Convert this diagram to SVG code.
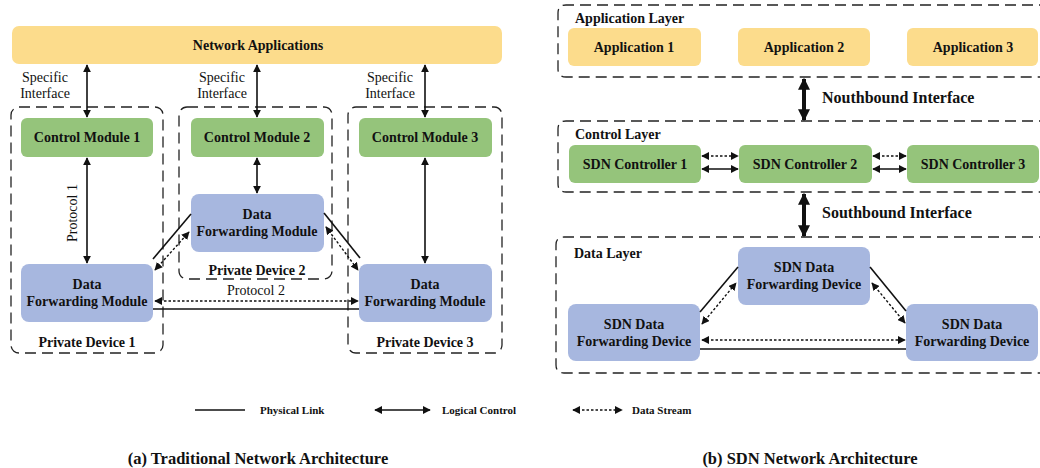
<svg xmlns="http://www.w3.org/2000/svg" width="1040" height="468" viewBox="0 0 1040 468">
  <style>
    .t { font-family: "Liberation Serif", "Times New Roman", serif; fill: #111; }
    .b { font-weight: bold; }
    .node { font-size: 14px; font-weight: bold; text-anchor: middle; }
    .lbl { font-size: 14px; text-anchor: middle; }
    .lay { font-size: 14px; font-weight: bold; }
    .leg { font-size: 11px; font-weight: bold; }
    .app { fill: #FCDC8C; }
    .ctl { fill: #95C47B; }
    .fwd { fill: #A7B7DF; }
    .frame { fill: none; stroke: #222; stroke-width: 1.3; stroke-dasharray: 11 6; }
    .phys { stroke: #111; stroke-width: 1.6; fill: none; }
    .logic { stroke: #111; stroke-width: 1.6; fill: none; marker-start: url(#ah); marker-end: url(#ah); }
    .data { stroke: #111; stroke-width: 1.4; stroke-dasharray: 2.5 2; fill: none; marker-start: url(#ah); marker-end: url(#ah); }
    .thick { stroke: #111; stroke-width: 4; fill: none; marker-start: url(#bh); marker-end: url(#bh); }
  </style>
  <defs>
    <marker id="ah" viewBox="0 0 10 10" refX="9" refY="5" markerWidth="8" markerHeight="8" markerUnits="userSpaceOnUse" orient="auto-start-reverse">
      <path d="M0,0 L10,5 L0,10 z" fill="#111"/>
    </marker>
    <marker id="bh" viewBox="0 0 10 10" refX="9" refY="5" markerWidth="12" markerHeight="13" markerUnits="userSpaceOnUse" orient="auto-start-reverse">
      <path d="M0,0 L10,5 L0,10 z" fill="#111"/>
    </marker>
  </defs>

  <!-- (a) Traditional network architecture -->
  <g id="a-frames">
    <rect class="frame" x="11" y="107" width="152" height="246" rx="8"/>
    <rect class="frame" x="179" y="107" width="153" height="172" rx="8"/>
    <rect class="frame" x="348" y="107" width="154" height="246" rx="8"/>
  </g>

  <g id="net-apps">
    <rect class="app" x="12" y="26" width="490" height="38" rx="7"/>
    <text class="t node" x="258" y="50" font-size="13">Network Applications</text>
  </g>

  <g id="cm1">
    <rect class="ctl" x="21" y="118" width="132" height="39" rx="6"/>
    <text class="t node" x="87" y="142">Control Module 1</text>
  </g>
  <g id="cm2">
    <rect class="ctl" x="191" y="118" width="133" height="39" rx="6"/>
    <text class="t node" x="257" y="142">Control Module 2</text>
  </g>
  <g id="cm3">
    <rect class="ctl" x="359" y="118" width="133" height="39" rx="6"/>
    <text class="t node" x="425" y="142">Control Module 3</text>
  </g>

  <g id="dfm1">
    <rect class="fwd" x="21" y="264" width="132" height="58" rx="8"/>
    <text class="t node" x="87" y="289">Data</text>
    <text class="t node" x="87" y="306">Forwarding Module</text>
  </g>
  <g id="dfm2">
    <rect class="fwd" x="191" y="194" width="133" height="58" rx="8"/>
    <text class="t node" x="257" y="219">Data</text>
    <text class="t node" x="257" y="236">Forwarding Module</text>
  </g>
  <g id="dfm3">
    <rect class="fwd" x="359" y="264" width="133" height="58" rx="8"/>
    <text class="t node" x="425" y="289">Data</text>
    <text class="t node" x="425" y="306">Forwarding Module</text>
  </g>

  <g id="a-labels">
    <text class="t lbl" x="45" y="82">Specific</text>
    <text class="t lbl" x="45" y="98">Interface</text>
    <text class="t lbl" x="222" y="82">Specific</text>
    <text class="t lbl" x="222" y="98">Interface</text>
    <text class="t lbl" x="390" y="82">Specific</text>
    <text class="t lbl" x="390" y="98">Interface</text>
    <text class="t lbl" x="0" y="0" transform="translate(77 213) rotate(-90)">Protocol 1</text>
    <text class="t lbl" x="256" y="295">Protocol 2</text>
    <text class="t node" x="87" y="347">Private Device 1</text>
    <text class="t node" x="257" y="275">Private Device 2</text>
    <text class="t node" x="425" y="347">Private Device 3</text>
  </g>

  <g id="a-connectors">
    <line class="logic" x1="87" y1="65" x2="87" y2="117"/>
    <line class="logic" x1="257" y1="65" x2="257" y2="117"/>
    <line class="logic" x1="425" y1="65" x2="425" y2="117"/>
    <line class="logic" x1="87" y1="158" x2="87" y2="263"/>
    <line class="logic" x1="257" y1="158" x2="257" y2="193"/>
    <line class="logic" x1="425" y1="158" x2="425" y2="263"/>
    <line class="phys" x1="153" y1="259" x2="191" y2="214"/>
    <line class="data" x1="155" y1="270" x2="189" y2="232"/>
    <line class="phys" x1="324" y1="213" x2="360" y2="258"/>
    <line class="data" x1="326" y1="227" x2="358" y2="270"/>
    <line class="data" x1="155" y1="301" x2="358" y2="301"/>
    <line class="phys" x1="153" y1="309" x2="359" y2="309"/>
  </g>

  <!-- (b) SDN network architecture -->
  <g id="b-layers">
    <path class="frame" d="M1050,5 H566 Q558,5 558,13 V69 Q558,77 566,77 H1050"/>
    <path class="frame" d="M1050,121 H566 Q558,121 558,129 V184 Q558,192 566,192 H1050"/>
    <path class="frame" d="M1050,237 H564 Q556,237 556,245 V365 Q556,373 564,373 H1050"/>
    <text class="t lay" x="575" y="23">Application Layer</text>
    <text class="t lay" x="575" y="139">Control Layer</text>
    <text class="t lay" x="574" y="258">Data Layer</text>
  </g>

  <g id="app1">
    <rect class="app" x="568" y="28" width="133" height="38" rx="6"/>
    <text class="t node" x="634" y="52">Application 1</text>
  </g>
  <g id="app2">
    <rect class="app" x="738" y="28" width="132" height="38" rx="6"/>
    <text class="t node" x="804" y="52">Application 2</text>
  </g>
  <g id="app3">
    <rect class="app" x="907" y="28" width="131" height="38" rx="6"/>
    <text class="t node" x="973" y="52">Application 3</text>
  </g>

  <g id="ctrl1">
    <rect class="ctl" x="569" y="145" width="132" height="38" rx="6"/>
    <text class="t node" x="635" y="169" font-size="14.5">SDN Controller 1</text>
  </g>
  <g id="ctrl2">
    <rect class="ctl" x="739" y="145" width="133" height="38" rx="6"/>
    <text class="t node" x="805" y="169" font-size="14.5">SDN Controller 2</text>
  </g>
  <g id="ctrl3">
    <rect class="ctl" x="907" y="145" width="132" height="38" rx="6"/>
    <text class="t node" x="973" y="169" font-size="14.5">SDN Controller 3</text>
  </g>

  <g id="dev-top">
    <rect class="fwd" x="738" y="247" width="132" height="58" rx="8"/>
    <text class="t node" x="804" y="272">SDN Data</text>
    <text class="t node" x="804" y="289">Forwarding Device</text>
  </g>
  <g id="dev-left">
    <rect class="fwd" x="568" y="304" width="132" height="57" rx="8"/>
    <text class="t node" x="634" y="329">SDN Data</text>
    <text class="t node" x="634" y="346">Forwarding Device</text>
  </g>
  <g id="dev-right">
    <rect class="fwd" x="906" y="304" width="132" height="57" rx="8"/>
    <text class="t node" x="972" y="329">SDN Data</text>
    <text class="t node" x="972" y="346">Forwarding Device</text>
  </g>

  <g id="b-interfaces">
    <text class="t b" x="822" y="103" font-size="16">Nouthbound Interface</text>
    <text class="t b" x="822" y="218" font-size="16">Southbound Interface</text>
  </g>

  <g id="b-connectors">
    <line class="thick" x1="804" y1="79" x2="804" y2="120"/>
    <line class="thick" x1="804" y1="194" x2="804" y2="236"/>
    <line class="data" x1="702" y1="156" x2="738" y2="156"/>
    <line class="logic" x1="702" y1="169" x2="738" y2="169"/>
    <line class="data" x1="873" y1="156" x2="906" y2="156"/>
    <line class="logic" x1="873" y1="169" x2="906" y2="169"/>
    <line class="phys" x1="700" y1="312" x2="738" y2="267"/>
    <line class="data" x1="702" y1="324" x2="736" y2="283"/>
    <line class="phys" x1="870" y1="267" x2="906" y2="311"/>
    <line class="data" x1="872" y1="283" x2="905" y2="323"/>
    <line class="data" x1="702" y1="340" x2="905" y2="340"/>
    <line class="phys" x1="700" y1="349" x2="906" y2="349"/>
  </g>

  <!-- legend -->
  <g id="legend">
    <line class="phys" x1="195" y1="410" x2="245" y2="410"/>
    <text class="t leg" x="260" y="414">Physical Link</text>
    <line class="logic" x1="375" y1="410" x2="430" y2="410"/>
    <text class="t leg" x="442" y="414">Logical Control</text>
    <line class="data" x1="573" y1="410" x2="622" y2="410"/>
    <text class="t leg" x="632" y="414">Data Stream</text>
  </g>

  <g id="captions">
    <text class="t b" x="258" y="464" font-size="16.5" text-anchor="middle">(a) Traditional Network Architecture</text>
    <text class="t b" x="810" y="464" font-size="16.5" text-anchor="middle">(b) SDN Network Architecture</text>
  </g>
</svg>
